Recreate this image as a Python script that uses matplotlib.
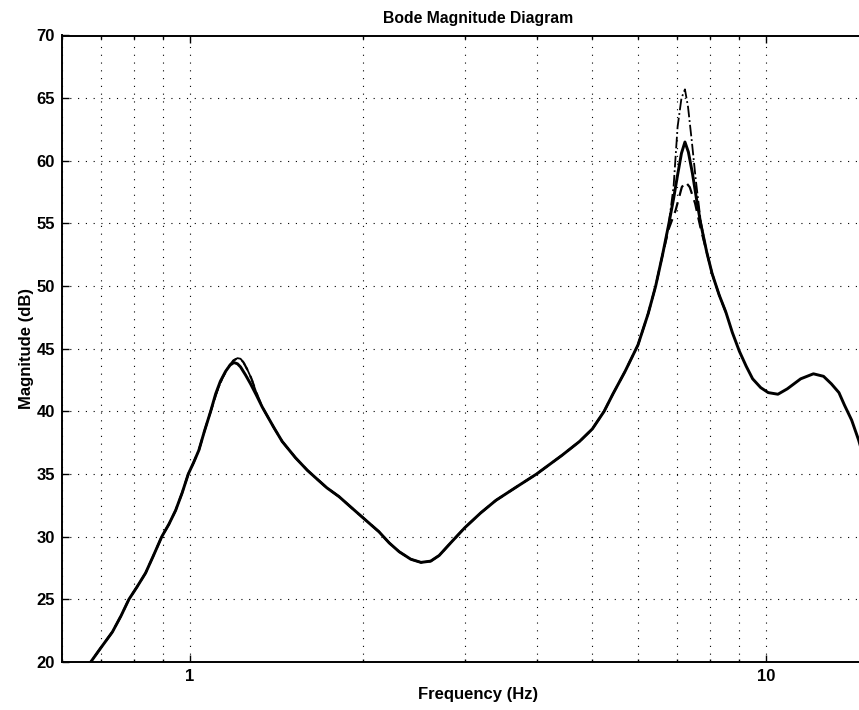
import numpy as np
import matplotlib
matplotlib.use("Agg")
import matplotlib.pyplot as plt
from matplotlib.ticker import FixedLocator, NullFormatter, FixedFormatter

# values (Hz, dB)
# rising branch, shared by all three runs
freq_low = [0.66, 0.673, 0.70, 0.734, 0.76, 0.784, 0.81, 0.838, 0.865, 0.894,
            0.92, 0.945, 0.97, 0.994, 1.015, 1.037, 1.06, 1.087]
mag_low = [19.3, 20.0, 21.1, 22.4, 23.7, 25.0, 26.0, 27.1, 28.5, 30.0,
           31.0, 32.1, 33.5, 35.0, 35.9, 36.9, 38.4, 40.0]

# first resonance (~1.2 Hz)
freq_pk1_solid = [1.109, 1.13, 1.154, 1.175, 1.193, 1.21, 1.225, 1.25, 1.275, 1.305]
mag_pk1_solid = [41.4, 42.4, 43.2, 43.7, 43.9, 43.8, 43.55, 42.9, 42.2, 41.3]
freq_pk1_other = [1.115, 1.14, 1.165, 1.19, 1.21, 1.225, 1.24, 1.26, 1.28, 1.305]
mag_pk1_other = [41.6, 42.7, 43.5, 44.05, 44.25, 44.2, 43.9, 43.3, 42.6, 41.5]

# valley and climb, shared
freq_mid = [1.336, 1.40, 1.447, 1.526, 1.60, 1.654, 1.73, 1.816, 1.90, 2.0,
            2.13, 2.22, 2.31, 2.42, 2.52, 2.62, 2.71, 2.85, 3.0, 3.2, 3.4,
            3.7, 4.0, 4.43, 4.75, 5.0, 5.24, 5.43, 5.7, 6.0, 6.25, 6.44, 6.62]
mag_mid = [40.35, 38.7, 37.6, 36.3, 35.3, 34.7, 33.9, 33.2, 32.4, 31.5,
           30.4, 29.5, 28.8, 28.2, 27.95, 28.05, 28.5, 29.6, 30.7, 31.9, 32.9,
           34.0, 35.0, 36.5, 37.6, 38.6, 40.0, 41.4, 43.2, 45.3, 47.8, 50.0, 52.5]

# second resonance (~7.2 Hz), one set per run
freq_pk2_solid = [6.79, 6.92, 7.02, 7.14, 7.24, 7.34, 7.46, 7.58, 7.71]
mag_pk2_solid = [55.0, 57.0, 58.7, 60.6, 61.5, 60.7, 59.0, 57.0, 55.0]
freq_pk2_dashdot = [6.79, 6.92, 7.03, 7.14, 7.24, 7.33, 7.44, 7.56, 7.71]
mag_pk2_dashdot = [55.0, 58.0, 62.7, 65.0, 65.7, 64.3, 61.6, 58.5, 55.2]
freq_pk2_dashed = [6.79, 6.97, 7.15, 7.26, 7.38, 7.54, 7.71]
mag_pk2_dashed = [54.6, 56.0, 57.9, 58.3, 57.9, 56.6, 54.6]

# falling branch and high-frequency hump
freq_high = [7.9, 8.07, 8.3, 8.53, 8.75, 9.0, 9.25, 9.49, 9.8, 10.1, 10.5,
             10.9, 11.5, 12.1, 12.6, 13.0, 13.4, 13.7, 14.1, 14.5, 14.8]
mag_high = [52.7, 51.0, 49.3, 47.9, 46.3, 44.8, 43.6, 42.6, 41.9, 41.5, 41.37,
            41.8, 42.6, 43.0, 42.8, 42.2, 41.5, 40.5, 39.3, 37.7, 36.3]
n_high_dashed = 4  # dashed runs stop near 8.5 Hz

y_ticks = [20, 25, 30, 35, 40, 45, 50, 55, 60, 65, 70]
x_major = [1, 10]
x_minor = [0.6, 0.7, 0.8, 0.9, 2, 3, 4, 5, 6, 7, 8, 9, 20]

freq_solid = freq_low + freq_pk1_solid + freq_mid + freq_pk2_solid + freq_high
mag_solid = mag_low + mag_pk1_solid + mag_mid + mag_pk2_solid + mag_high
freq_dd = (freq_low + freq_pk1_other + freq_mid + freq_pk2_dashdot
           + freq_high[:n_high_dashed])
mag_dd = (mag_low + mag_pk1_other + mag_mid + mag_pk2_dashdot
          + mag_high[:n_high_dashed])
freq_da = (freq_low + freq_pk1_other + freq_mid + freq_pk2_dashed
           + freq_high[:n_high_dashed])
mag_da = (mag_low + mag_pk1_other + mag_mid + mag_pk2_dashed
          + mag_high[:n_high_dashed])

plt.rcParams["font.family"] = ["Liberation Sans", "DejaVu Sans"]

fig = plt.figure(figsize=(8.59, 7.10), dpi=100)
# axes runs past the right edge, as in the cropped scan
ax = fig.add_axes([62 / 859, 1 - 662 / 710, (894 - 62) / 859, (662 - 35.5) / 710])

ax.plot(freq_dd, mag_dd, color="black", lw=1.3, ls="-.")
ax.plot(freq_da, mag_da, color="black", lw=1.6, ls=(0, (5, 3)))
ax.plot(freq_solid, mag_solid, color="black", lw=2.1, ls="-",
        solid_joinstyle="round")

ax.set_xscale("log")
ax.set_xlim(0.6, 16.7)
ax.set_ylim(20, 70)

ax.xaxis.set_major_locator(FixedLocator(x_major))
ax.xaxis.set_major_formatter(FixedFormatter(["1", "10"]))
ax.xaxis.set_minor_locator(FixedLocator(x_minor))
ax.xaxis.set_minor_formatter(NullFormatter())
ax.set_yticks(y_ticks)

ax.tick_params(which="both", direction="in", top=True, right=True,
               width=1.0, labelsize=12, pad=5)
ax.tick_params(which="major", length=5)
ax.tick_params(which="minor", length=2.5)
for lab in ax.get_xticklabels() + ax.get_yticklabels():
    lab.set_fontweight("bold")

ax.grid(True, which="both", color="black", lw=0.8, ls=(0, (1, 6)))
for sp in ax.spines.values():
    sp.set_linewidth(1.4)

ax.set_title("Bode Magnitude Diagram", fontsize=11.3, fontweight="bold", pad=9)
ax.set_xlabel("Frequency (Hz)", fontsize=12, fontweight="bold", labelpad=2)
ax.set_ylabel("Magnitude (dB)", fontsize=12, fontweight="bold", labelpad=2)

fig.savefig("out.png", dpi=100)
